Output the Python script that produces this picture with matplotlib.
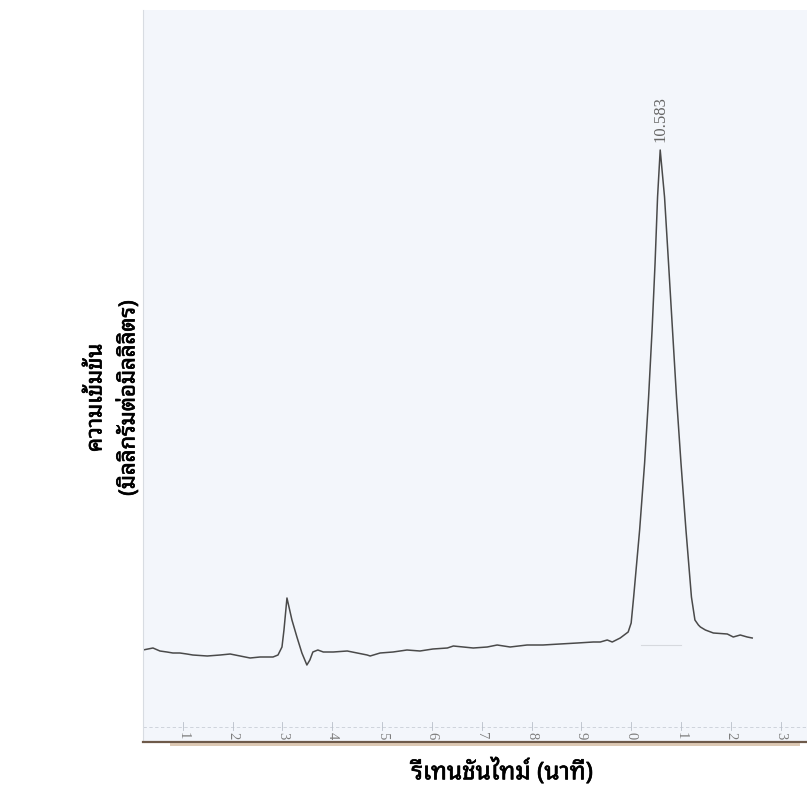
import matplotlib
matplotlib.use("Agg")
import matplotlib.pyplot as plt
import matplotlib.patheffects as pe
from matplotlib import font_manager
from matplotlib.ft2font import FT2Font
from matplotlib.patches import Rectangle

# Retention time (min) and detector signal of the chromatogram trace
time_min = [0.20, 0.40, 0.54, 0.68, 0.80, 0.94, 1.08, 1.20, 1.49, 1.75, 1.95, 2.15,
            2.35, 2.55, 2.81, 2.91, 2.99, 3.03, 3.09, 3.19, 3.29, 3.39, 3.49, 3.55,
            3.61, 3.71, 3.82, 3.92, 4.02, 4.30, 4.50, 4.70, 4.76, 4.96, 5.22, 5.50,
            5.76, 6.02, 6.31, 6.43, 6.63, 6.83, 7.11, 7.31, 7.57, 7.91, 8.23, 8.57,
            8.92, 9.24, 9.38, 9.52, 9.62, 9.78, 9.94, 10.00, 10.05, 10.17, 10.27,
            10.35, 10.42, 10.48, 10.53, 10.583, 10.67, 10.75, 10.83, 10.91, 11.00,
            11.10, 11.21, 11.28, 11.35, 11.39, 11.49, 11.65, 11.93, 12.05, 12.19,
            12.33, 12.43]
signal = [9.2, 9.4, 9.1, 9.0, 8.9, 8.9, 8.8, 8.7, 8.6, 8.7, 8.8, 8.6,
          8.4, 8.5, 8.5, 8.7, 9.5, 11.2, 14.4, 12.2, 10.5, 8.9, 7.7, 8.2,
          9.0, 9.2, 9.0, 9.0, 9.0, 9.1, 8.9, 8.7, 8.6, 8.9, 9.0, 9.2,
          9.1, 9.3, 9.4, 9.6, 9.5, 9.4, 9.5, 9.7, 9.5, 9.7, 9.7, 9.8,
          9.9, 10.0, 10.0, 10.2, 10.0, 10.4, 11.0, 11.9, 14.5, 21.2, 27.9,
          34.5, 41.2, 47.9, 54.5, 59.2, 54.5, 47.9, 41.2, 34.5, 27.9,
          21.2, 14.5, 12.2, 11.7, 11.5, 11.2, 10.9, 10.8, 10.5, 10.7,
          10.5, 10.4]

peak_time = 10.583
peak_label = "10.583"

tick_pos = [1, 2, 3, 4, 5, 6, 7, 8, 9, 10, 11, 12, 13]
tick_text = ["1", "2", "3", "4", "5", "6", "7", "8", "9", "0", "1", "2", "3"]

x_title = "รีเทนชันไทม์ (นาที)"
y_title_lines = ["ความเข้มข้น", "(มิลลิกรัมต่อมิลลิลิตร)"]

# looped Thai sans faces first, loopless ones as a fallback
PREFERRED = ["Noto Sans Thai Looped", "Tahoma", "Leelawadee UI", "Loma",
             "Garuda", "Umpush", "Waree", "Laksaman", "Sawasdee",
             "Noto Sans Thai", "Noto Sans Thai UI", "Kinnari", "Norasi"]
AVOID = ("mono", "typo", "typist", "typewriter")


def thai_family():
    """Pick an installed proportional family that has Thai glyphs."""
    found = {}
    for path in font_manager.findSystemFonts():
        try:
            f = FT2Font(path)
            if 0x0E01 not in f.get_charmap():
                continue
            name = font_manager.FontProperties(fname=path).get_name()
            bold = "bold" in f.style_name.lower()
            found[name] = found.get(name, False) or bold
        except Exception:
            continue
    for name in PREFERRED:
        if name in found:
            return name
    ranked = sorted(found, key=lambda n: (any(a in n.lower() for a in AVOID),
                                          not found[n], n))
    return ranked[0] if ranked else None


fam = thai_family()
families = ([fam] if fam else []) + ["DejaVu Sans"]
heavy = [pe.withStroke(linewidth=0.5, foreground="black")]

fig = plt.figure(figsize=(8.07, 7.90), dpi=100)
ax = fig.add_axes([143 / 807, 48 / 790, 664 / 807, 732 / 790])
ax.set_facecolor("#f3f6fb")

ax.plot(time_min, signal, color="#4a4a4a", lw=1.1)

ax.set_xlim(0.2, 13.53)
ax.set_ylim(0, 73.2)

# faint tick row printed on the chart paper
ax.axhline(1.5, color="#c9ced6", lw=0.6, ls=(0, (4, 3)))
for t, lab in zip(tick_pos, tick_text):
    ax.plot([t, t], [1.2, 2.0], color="#b8bec8", lw=0.6)
    ax.text(t, 0.65, lab, rotation=-90, ha="center", va="center",
            fontsize=10.5, color="#7e7e7e", family="Liberation Serif",
            clip_on=True)

# baseline marks under the main peak
ax.plot([10.2, 11.0], [9.7, 9.7], color="#d6d9de", lw=0.8)

ax.annotate(peak_label, xy=(peak_time, max(signal)), xytext=(0, 6),
            textcoords="offset points", rotation=90, ha="center", va="bottom",
            fontsize=12, color="#666666", family="Liberation Serif")

for side in ("top", "right"):
    ax.spines[side].set_visible(False)
ax.spines["left"].set_color("#d8dce2")
ax.spines["left"].set_linewidth(0.8)
ax.spines["bottom"].set_color("#6e5a4a")
ax.spines["bottom"].set_linewidth(1.6)
ax.set_xticks([])
ax.set_yticks([])

# tan edge of the paper just below the axis
fig.add_artist(Rectangle((170 / 807, 44 / 790), 630 / 807, 3.5 / 790,
                         transform=fig.transFigure, color="#cfb294",
                         alpha=0.7, lw=0))

fig.text(502 / 807, 1 - 772 / 790, x_title, ha="center", va="center",
         fontsize=17.5, fontweight="bold", family=families, path_effects=heavy)
for xc, line in zip([96, 128], y_title_lines):
    fig.text(xc / 807, 1 - 398 / 790, line, ha="center", va="center",
             rotation=90, fontsize=16, fontweight="bold", family=families,
             path_effects=heavy)

fig.savefig("out.png", dpi=100)
